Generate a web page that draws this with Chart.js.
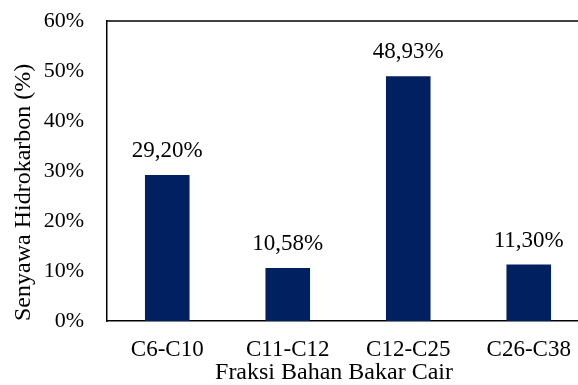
<!DOCTYPE html>
<html>
<head>
<meta charset="utf-8">
<script src="https://cdn.jsdelivr.net/npm/chart.js@4.4.1/dist/chart.umd.min.js"></script>
<style>
  html, body { margin: 0; padding: 0; background: #ffffff; overflow: hidden; }
  #wrap { width: 578px; height: 385px; overflow: hidden; }
  canvas { display: block; }
</style>
</head>
<body>
<div id="wrap"><canvas id="chart" width="589" height="385"></canvas></div>
<script>
// Hydrocarbon fraction distribution of the liquid fuel
const categories = ['C6-C10', 'C11-C12', 'C12-C25', 'C26-C38'];
const percentages = [29.20, 10.58, 48.93, 11.30];
const yTicks = [0, 10, 20, 30, 40, 50, 60];
const xTitle = 'Fraksi Bahan Bakar Cair';
const yTitle = 'Senyawa Hidrokarbon (%)';

const serif = "'Liberation Serif', 'Times New Roman', serif";
const navy = '#002060';
const titleFont = { family: serif, size: 24, lineHeight: 1.0 };
const xTickFont = { family: serif, size: 23, lineHeight: 1.0 };
const yTickFont = { family: serif, size: 22, lineHeight: 1.0 };

function fmtPct(v, digits) {
  return v.toFixed(digits).replace('.', ',') + '%';
}

// Top frame line of the plot area
const frameTop = {
  id: 'frameTop',
  afterDraw(chart) {
    const { ctx, chartArea } = chart;
    ctx.save();
    ctx.strokeStyle = '#000000';
    ctx.lineWidth = 1.5;
    ctx.beginPath();
    ctx.moveTo(chartArea.left, chartArea.top);
    ctx.lineTo(chartArea.right, chartArea.top);
    ctx.stroke();
    ctx.restore();
  }
};

// Horizontal axis title, set slightly left of the plot centre
const xAxisTitle = {
  id: 'xAxisTitle',
  afterDraw(chart) {
    const { ctx, chartArea } = chart;
    ctx.save();
    ctx.fillStyle = '#000000';
    ctx.font = '24px ' + serif;
    ctx.textAlign = 'center';
    ctx.textBaseline = 'middle';
    ctx.fillText(xTitle, chartArea.left + 227, chart.height - 12);
    ctx.restore();
  }
};

// Value labels above each bar
const valueLabels = {
  id: 'valueLabels',
  afterDatasetsDraw(chart) {
    const { ctx } = chart;
    const meta = chart.getDatasetMeta(0);
    ctx.save();
    ctx.fillStyle = '#000000';
    ctx.font = '23px ' + serif;
    ctx.textAlign = 'center';
    ctx.textBaseline = 'middle';
    meta.data.forEach((bar, i) => {
      ctx.fillText(fmtPct(percentages[i], 2), bar.x, bar.y - 24);
    });
    ctx.restore();
  }
};

new Chart(document.getElementById('chart'), {
  type: 'bar',
  data: {
    labels: categories,
    datasets: [{
      data: percentages,
      backgroundColor: navy,
      borderWidth: 0,
      barPercentage: 0.37,
      categoryPercentage: 1.0
    }]
  },
  options: {
    responsive: false,
    animation: false,
    layout: { padding: { top: 21, right: 0, left: 0, bottom: 0 } },
    plugins: {
      legend: { display: false },
      tooltip: { enabled: false }
    },
    scales: {
      x: {
        grid: { display: false, drawTicks: false },
        border: { display: true, color: '#000000', width: 1.5 },
        ticks: {
          color: '#000000',
          font: xTickFont,
          padding: 17,
          maxRotation: 0
        },
        title: { display: false },
        afterFit(scale) { scale.height = 64; }
      },
      y: {
        min: 0,
        max: 60,
        afterBuildTicks(scale) {
          scale.ticks = yTicks.map(v => ({ value: v }));
        },
        grid: { display: false, drawTicks: false },
        border: { display: true, color: '#000000', width: 1.5 },
        ticks: {
          color: '#000000',
          font: yTickFont,
          padding: 23,
          callback: v => v + '%'
        },
        title: {
          display: true,
          text: yTitle,
          align: 'start',
          color: '#000000',
          font: titleFont,
          padding: { top: 12, bottom: 0 }
        },
        afterFit(scale) {
          scale.width = 107;
          scale.paddingTop = 0;
          scale.paddingBottom = 0;
        }
      }
    }
  },
  plugins: [frameTop, xAxisTitle, valueLabels]
});
</script>
</body>
</html>
